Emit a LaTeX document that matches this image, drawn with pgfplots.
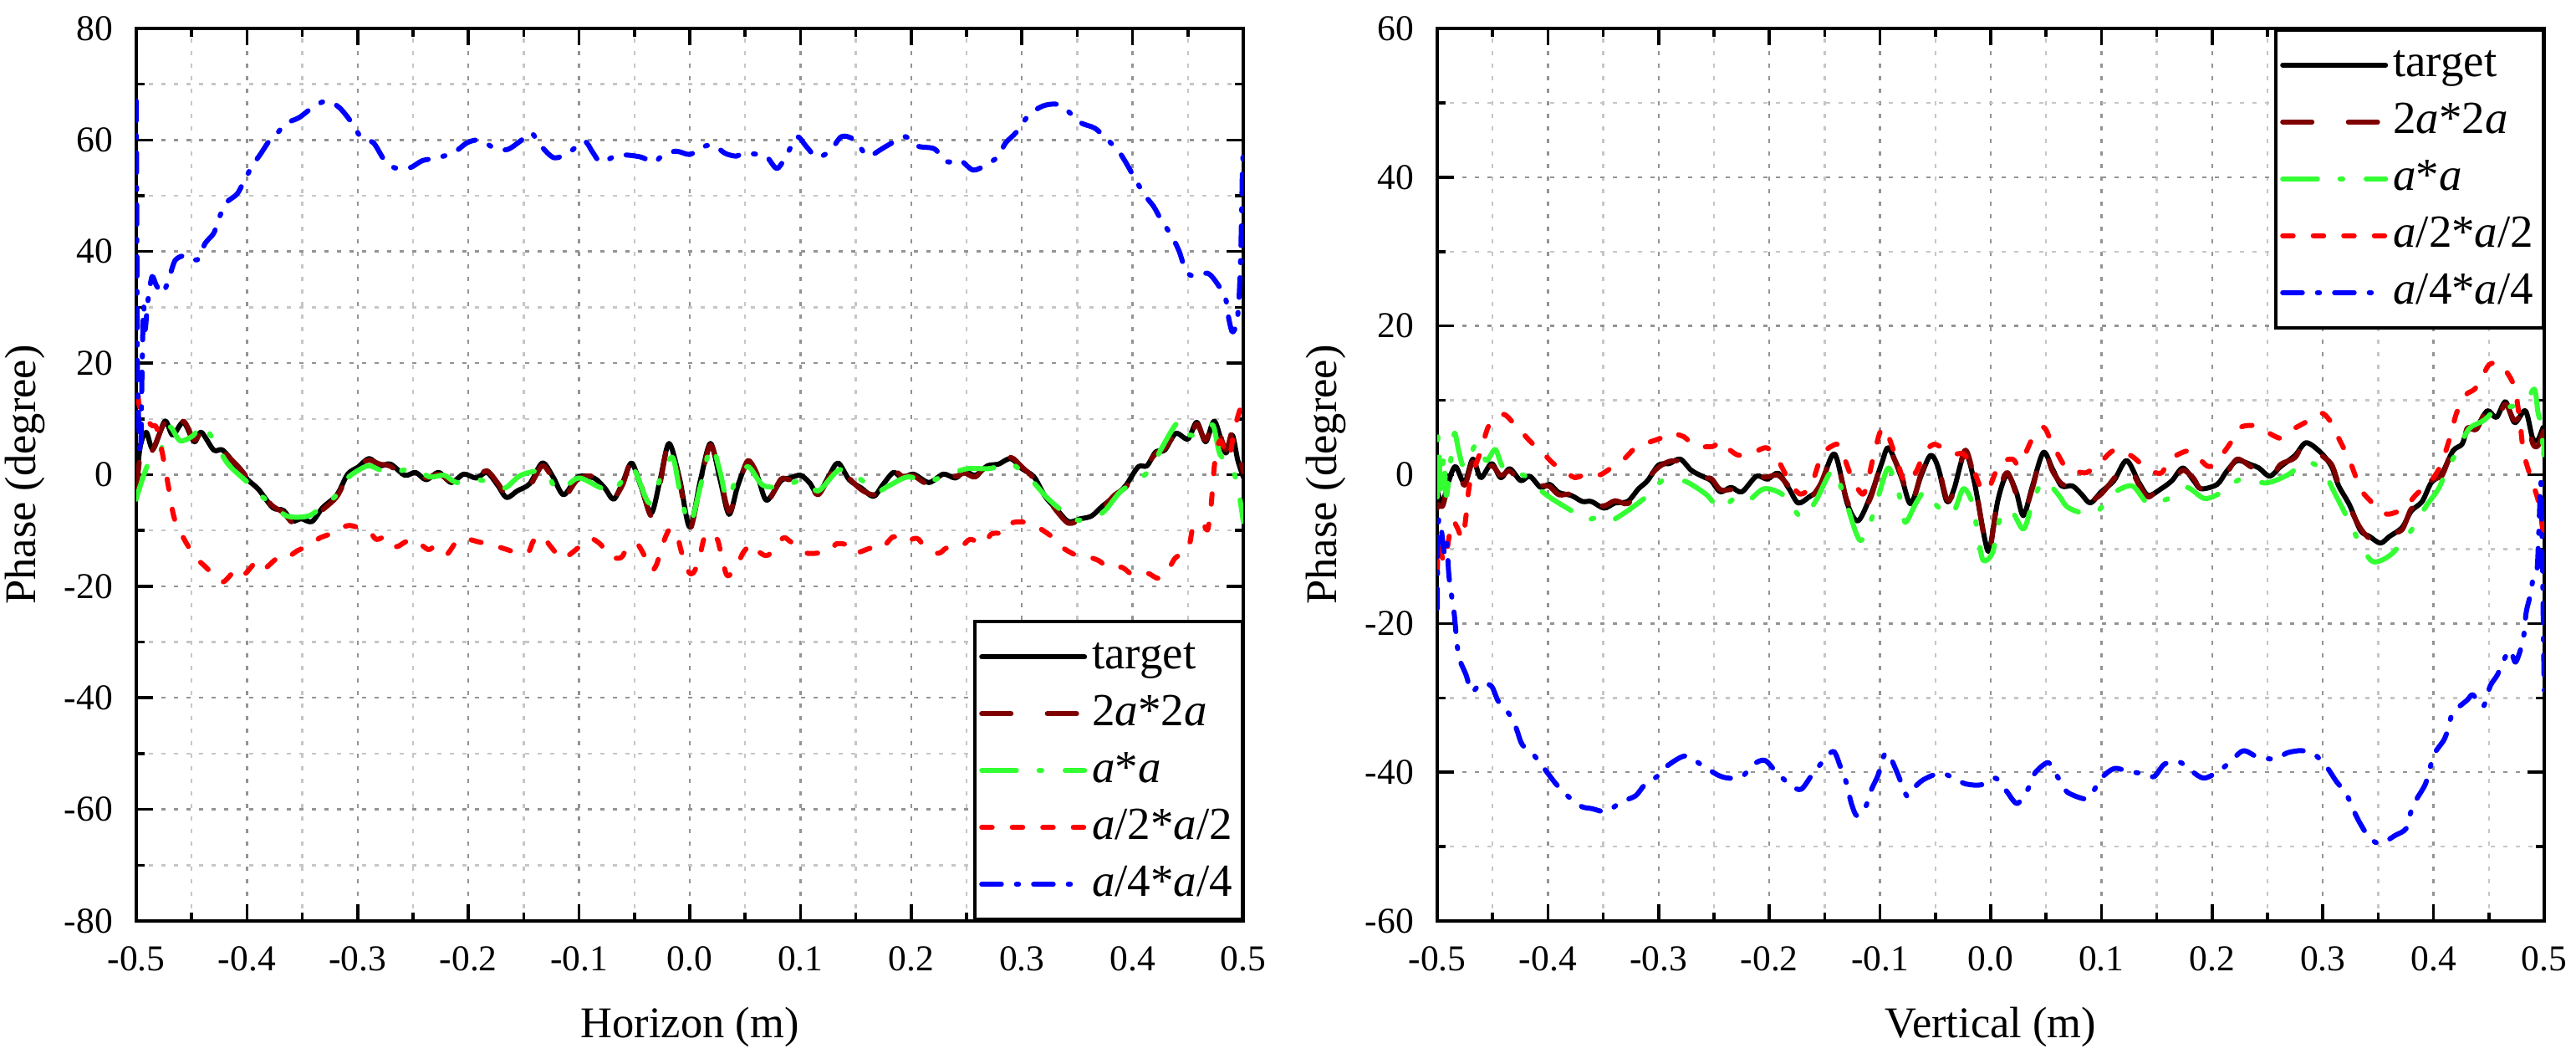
\documentclass[border=0pt]{standalone}
\usepackage{fontspec}
\setmainfont{Liberation Serif}
\usepackage{pgfplots}
\usepackage{pgfplotstable}
\pgfplotsset{compat=1.18}

\definecolor{cdred}{RGB}{128,0,0}
\definecolor{cgreen}{RGB}{51,255,51}

% ---------- Horizon (left panel) ----------
\pgfplotstableread{
x y
-0.5000 -1.9
-0.4965 5.0
-0.4910 7.6
-0.4848 4.6
-0.4742 9.6
-0.4671 7.1
-0.4574 9.4
-0.4477 5.9
-0.4413 7.6
-0.4300 4.4
-0.4219 4.4
-0.4090 1.4
-0.3994 -0.9
-0.3897 -2.6
-0.3768 -5.9
-0.3671 -6.4
-0.3590 -8.3
-0.3510 -7.9
-0.3413 -8.4
-0.3316 -5.9
-0.3187 -3.6
-0.3090 0.1
-0.2994 1.4
-0.2897 2.9
-0.2800 1.6
-0.2703 1.9
-0.2574 -0.1
-0.2477 0.4
-0.2381 -0.9
-0.2268 0.4
-0.2155 -1.4
-0.2042 0.1
-0.1929 -0.6
-0.1832 0.4
-0.1735 -1.9
-0.1655 -4.1
-0.1558 -2.9
-0.1445 -1.6
-0.1332 2.1
-0.1235 -0.4
-0.1139 -3.6
-0.1010 -0.4
-0.0865 -0.6
-0.0768 -2.4
-0.0687 -4.4
-0.0606 -1.4
-0.0526 2.1
-0.0445 -1.9
-0.0348 -6.9
-0.0268 -0.9
-0.0187 5.6
-0.0090 -0.9
0.0000 -9.4
0.0097 -0.9
0.0187 5.6
0.0274 -0.9
0.0355 -7.1
0.0435 -1.9
0.0523 2.1
0.0613 -0.4
0.0694 -4.6
0.0823 -1.1
0.0903 -0.6
0.1000 -0.1
0.1080 -1.4
0.1160 -3.4
0.1260 -0.1
0.1340 2.1
0.1440 -0.9
0.1550 -2.4
0.1660 -3.9
0.1740 -1.9
0.1840 0.4
0.1920 -0.6
0.2020 0.1
0.2160 -1.4
0.2290 0.1
0.2400 -0.6
0.2480 0.6
0.2580 -0.1
0.2690 1.6
0.2790 1.9
0.2900 2.9
0.3000 1.1
0.3110 -0.4
0.3210 -3.9
0.3310 -6.1
0.3420 -8.4
0.3530 -7.9
0.3630 -7.4
0.3730 -5.6
0.3840 -3.9
0.3940 -1.9
0.4050 1.4
0.4130 1.6
0.4210 4.1
0.4290 4.4
0.4390 7.4
0.4500 6.4
0.4580 9.4
0.4660 5.9
0.4740 9.6
0.4840 3.9
0.4900 7.1
0.4950 2.6
0.5000 -0.4
}\hortarget

\pgfplotstableread{
x y
-0.5000 -3.0
-0.4965 3.5
-0.4925 6.0
-0.4860 4.2
-0.4742 9.3
-0.4671 6.8
-0.4574 9.6
-0.4477 6.2
-0.4413 7.3
-0.4300 4.6
-0.4219 4.1
-0.4090 1.7
-0.3994 -0.6
-0.3897 -2.9
-0.3768 -5.6
-0.3671 -6.8
-0.3590 -8.6
-0.3510 -8.2
-0.3413 -8.0
-0.3316 -6.3
-0.3187 -3.9
-0.3090 -0.2
-0.2994 1.8
-0.2897 2.6
-0.2800 1.9
-0.2703 1.5
-0.2574 -0.4
-0.2477 0.1
-0.2381 -0.6
-0.2268 0.1
-0.2155 -1.1
-0.2042 0.4
-0.1929 -0.3
-0.1832 0.7
-0.1735 -1.5
-0.1655 -3.7
-0.1558 -3.1
-0.1445 -2.0
-0.1332 1.6
-0.1235 -0.8
-0.1139 -4.0
-0.1010 -0.8
-0.0865 -0.3
-0.0768 -2.0
-0.0687 -4.0
-0.0606 -1.8
-0.0526 2.5
-0.0445 -1.5
-0.0348 -7.4
-0.0268 -1.5
-0.0187 5.6
-0.0090 -1.5
0.0000 -9.8
0.0097 -1.5
0.0187 5.3
0.0274 -0.4
0.0355 -6.6
0.0435 -2.3
0.0523 2.5
0.0613 -0.1
0.0694 -4.9
0.0823 -0.8
0.0903 -0.9
0.1000 0.2
0.1080 -1.7
0.1160 -3.6
0.1260 -0.4
0.1340 2.4
0.1440 -0.6
0.1550 -2.7
0.1660 -3.6
0.1740 -2.2
0.1840 0.7
0.1920 -0.3
0.2020 -0.2
0.2160 -1.7
0.2290 0.4
0.2400 -0.3
0.2480 0.3
0.2580 -0.4
0.2690 1.9
0.2790 1.6
0.2900 3.1
0.3000 1.4
0.3110 -0.7
0.3210 -3.6
0.3310 -6.4
0.3420 -8.7
0.3530 -8.1
0.3630 -7.1
0.3730 -5.9
0.3840 -3.6
0.3940 -2.2
0.4050 1.1
0.4130 1.9
0.4210 3.8
0.4290 4.7
0.4390 7.1
0.4500 5.8
0.4580 9.1
0.4660 6.2
0.4740 9.9
0.4840 4.5
0.4900 7.6
0.4950 4.5
0.5000 0.5
}\hortwo

\pgfplotstableread{
x y
-0.5000 -4.4
-0.4994 -3.9
-0.4929 0.1
-0.4865 3.1
-0.4784 4.1
-0.4703 8.6
-0.4606 6.1
-0.4494 6.9
-0.4397 8.9
-0.4300 6.1
-0.4171 1.9
-0.3994 -1.4
-0.3897 -3.4
-0.3800 -4.9
-0.3639 -7.4
-0.3445 -7.4
-0.3316 -5.6
-0.3203 -3.9
-0.3106 -0.9
-0.3010 0.6
-0.2897 1.6
-0.2768 0.6
-0.2639 0.6
-0.2494 1.1
-0.2348 -0.4
-0.2219 -0.1
-0.2106 -1.4
-0.1929 -0.9
-0.1800 -1.4
-0.1671 -2.4
-0.1526 -0.1
-0.1316 0.6
-0.1187 -2.9
-0.1010 -0.6
-0.0832 -2.1
-0.0703 -3.1
-0.0623 -1.4
-0.0510 1.1
-0.0365 -5.1
-0.0252 0.1
-0.0155 3.1
-0.0090 -2.9
0.0000 -8.9
0.0097 -2.0
0.0194 5.1
0.0274 0.5
0.0339 -4.4
0.0435 0.0
0.0532 1.4
0.0661 -1.9
0.0839 -2.1
0.1032 -0.9
0.1161 -2.9
0.1355 0.9
0.1548 -0.9
0.1677 -3.1
0.1806 -1.9
0.1968 -0.4
0.2161 -1.1
0.2387 0.4
0.2516 1.1
0.2710 1.1
0.2903 1.9
0.3081 -0.9
0.3226 -4.1
0.3355 -6.4
0.3435 -7.9
0.3597 -8.1
0.3742 -6.6
0.3887 -3.1
0.4032 -1.1
0.4161 0.9
0.4258 4.6
0.4419 9.6
0.4516 7.1
0.4645 7.6
0.4726 8.9
0.4790 3.6
0.4887 1.9
0.4952 -2.4
0.5000 -8.4
}\horone

\pgfplotstableread{
x y
-0.5000 19.5
-0.4985 14.5
-0.4962 11.6
-0.4865 8.9
-0.4816 8.4
-0.4752 2.6
-0.4703 -2.9
-0.4655 -7.9
-0.4558 -11.9
-0.4461 -14.9
-0.4381 -16.4
-0.4252 -18.9
-0.4203 -19.1
-0.4090 -16.9
-0.4026 -17.9
-0.3913 -15.6
-0.3848 -16.9
-0.3735 -15.1
-0.3671 -15.4
-0.3542 -13.6
-0.3413 -12.6
-0.3348 -11.4
-0.3219 -10.4
-0.3171 -9.6
-0.3074 -9.1
-0.3010 -9.4
-0.2897 -10.1
-0.2832 -11.6
-0.2735 -11.1
-0.2655 -12.9
-0.2574 -12.1
-0.2494 -11.6
-0.2365 -13.4
-0.2300 -12.9
-0.2203 -14.4
-0.2106 -11.9
-0.2042 -11.4
-0.1897 -12.1
-0.1816 -12.4
-0.1655 -13.4
-0.1574 -13.9
-0.1461 -13.9
-0.1413 -11.9
-0.1332 -10.9
-0.1268 -12.6
-0.1155 -15.1
-0.1090 -14.4
-0.0977 -12.6
-0.0897 -11.4
-0.0800 -12.6
-0.0735 -14.6
-0.0623 -14.9
-0.0558 -12.9
-0.0477 -12.4
-0.0413 -14.4
-0.0348 -17.1
-0.0300 -16.1
-0.0252 -12.9
-0.0187 -9.9
-0.0123 -10.4
-0.0074 -13.9
-0.0010 -17.4
0.0032 -17.6
0.0081 -15.4
0.0145 -10.6
0.0242 -11.4
0.0274 -13.4
0.0339 -18.1
0.0435 -15.9
0.0484 -13.9
0.0565 -12.4
0.0629 -13.9
0.0710 -14.4
0.0839 -11.4
0.0903 -11.9
0.1032 -13.9
0.1129 -14.1
0.1274 -13.6
0.1323 -12.4
0.1419 -12.6
0.1484 -14.1
0.1645 -13.1
0.1726 -13.4
0.1839 -11.1
0.1919 -12.1
0.2048 -11.4
0.2113 -12.6
0.2242 -14.1
0.2323 -13.1
0.2452 -12.9
0.2532 -11.6
0.2661 -12.4
0.2726 -10.6
0.2855 -10.4
0.2919 -8.6
0.3065 -8.6
0.3161 -9.6
0.3290 -11.4
0.3355 -12.9
0.3484 -14.4
0.3548 -14.4
0.3694 -15.4
0.3774 -16.6
0.3903 -16.6
0.4000 -17.9
0.4129 -17.6
0.4242 -18.6
0.4339 -16.4
0.4387 -14.9
0.4484 -13.6
0.4516 -12.4
0.4548 -9.4
0.4629 -8.6
0.4677 -9.9
0.4710 -5.4
0.4742 2.1
0.4790 6.1
0.4871 3.1
0.4919 8.1
0.4984 12.6
0.5000 13.1
}\horhalf

\pgfplotstableread{
x y
-0.5000 67.0
-0.4995 45.0
-0.4990 20.0
-0.4975 8.0
-0.4960 4.0
-0.4950 16.0
-0.4935 30.0
-0.4920 26.0
-0.4896 31.0
-0.4858 35.5
-0.4820 34.0
-0.4760 32.5
-0.4700 35.5
-0.4646 38.5
-0.4550 39.3
-0.4450 38.5
-0.4377 41.5
-0.4300 43.3
-0.4242 46.5
-0.4185 48.8
-0.4090 50.3
-0.4030 52.5
-0.3954 55.3
-0.3877 57.5
-0.3800 59.8
-0.3723 61.3
-0.3646 63.0
-0.3530 64.0
-0.3396 66.0
-0.3280 67.0
-0.3165 65.8
-0.3050 63.0
-0.2970 60.5
-0.2858 59.5
-0.2762 56.5
-0.2665 55.0
-0.2530 55.0
-0.2415 56.3
-0.2280 56.8
-0.2127 57.8
-0.2012 59.5
-0.1896 60.0
-0.1762 58.5
-0.1646 58.3
-0.1531 59.8
-0.1435 61.3
-0.1338 58.8
-0.1223 56.8
-0.1088 57.8
-0.0954 59.8
-0.0877 57.8
-0.0800 56.0
-0.0646 57.3
-0.0454 57.0
-0.0320 56.0
-0.0260 57.0
-0.0130 58.0
0.0000 57.4
0.0097 58.6
0.0210 59.1
0.0320 57.6
0.0420 57.1
0.0480 57.6
0.0580 57.5
0.0690 57.1
0.0790 54.9
0.0890 57.9
0.0970 60.6
0.1050 58.9
0.1150 56.9
0.1270 58.1
0.1370 60.6
0.1480 60.1
0.1580 57.6
0.1630 57.1
0.1710 58.1
0.1820 59.4
0.1950 60.6
0.2060 58.9
0.2210 58.4
0.2320 56.1
0.2440 56.4
0.2560 54.6
0.2680 55.6
0.2790 57.1
0.2850 59.4
0.2950 61.4
0.3060 64.4
0.3190 66.1
0.3320 66.4
0.3420 65.1
0.3530 63.1
0.3660 62.1
0.3770 60.1
0.3870 58.1
0.3950 55.6
0.4020 53.1
0.4110 50.1
0.4190 48.1
0.4260 45.6
0.4350 42.9
0.4420 40.1
0.4480 36.6
0.4550 35.6
0.4680 36.1
0.4770 34.1
0.4840 31.6
0.4860 28.9
0.4900 25.6
0.4940 27.1
0.4960 31.1
0.4975 38.1
0.4985 46.6
0.4993 55.6
0.5000 57.0
}\horquarter

% ---------- Vertical (right panel) ----------
\pgfplotstableread{
x y
-0.5000 -2.0
-0.4993 -2.6
-0.4951 -3.8
-0.4902 -1.1
-0.4836 1.1
-0.4754 -1.1
-0.4679 2.1
-0.4607 -0.4
-0.4509 1.5
-0.4427 -0.4
-0.4345 0.8
-0.4246 -0.8
-0.4164 -0.2
-0.4066 -1.7
-0.3984 -1.3
-0.3902 -2.4
-0.3788 -2.8
-0.3689 -3.6
-0.3607 -3.6
-0.3493 -4.5
-0.3394 -3.8
-0.3280 -3.6
-0.3182 -1.9
-0.3100 -0.8
-0.3001 1.3
-0.2903 1.5
-0.2805 2.1
-0.2706 0.6
-0.2608 -0.2
-0.2526 -0.8
-0.2444 -2.3
-0.2346 -1.7
-0.2248 -2.3
-0.2117 -0.2
-0.2018 -0.6
-0.1920 0.2
-0.1822 -1.9
-0.1740 -3.8
-0.1642 -3.0
-0.1543 -1.7
-0.1412 2.8
-0.1298 -3.8
-0.1199 -6.2
-0.1085 -2.8
-0.0986 1.5
-0.0921 3.6
-0.0806 -0.4
-0.0724 -3.9
-0.0626 0.0
-0.0544 2.6
-0.0478 1.1
-0.0396 -3.6
-0.0331 -1.9
-0.0233 3.0
-0.0151 -0.8
-0.0052 -8.8
-0.0010 -10.0
0.0065 -3.4
0.0147 0.0
0.0230 -2.3
0.0295 -5.5
0.0377 -1.5
0.0475 3.0
0.0557 0.8
0.0639 -1.5
0.0737 -1.5
0.0818 -2.6
0.0900 -3.8
0.0998 -2.3
0.1113 -0.8
0.1227 1.9
0.1340 -1.1
0.1424 -2.8
0.1538 -1.9
0.1637 -0.8
0.1735 0.9
0.1833 -0.8
0.1900 -1.9
0.2046 -1.3
0.2128 0.4
0.2227 1.9
0.2358 1.3
0.2423 0.9
0.2521 -0.2
0.2619 1.1
0.2749 2.6
0.2849 4.3
0.2980 3.0
0.3078 1.1
0.3143 -1.5
0.3242 -4.1
0.3340 -7.5
0.3422 -8.3
0.3520 -9.2
0.3602 -8.3
0.3716 -7.1
0.3798 -4.9
0.3897 -3.6
0.3978 -1.1
0.4077 0.2
0.4175 3.2
0.4257 4.1
0.4306 6.0
0.4388 6.4
0.4486 8.6
0.4568 7.7
0.4650 9.8
0.4732 7.0
0.4830 8.6
0.4895 4.9
0.4944 4.7
0.4993 6.4
0.5000 5.0
}\vertarget

\pgfplotstableread{
x y
-0.5000 -4.5
-0.4993 -4.0
-0.4951 -4.2
-0.4902 -1.5
-0.4836 0.8
-0.4754 -1.4
-0.4679 1.7
-0.4607 -0.8
-0.4509 1.2
-0.4427 -0.1
-0.4345 0.5
-0.4246 -1.0
-0.4164 -0.5
-0.4066 -1.4
-0.3984 -1.6
-0.3902 -2.7
-0.3788 -2.6
-0.3689 -3.3
-0.3607 -3.9
-0.3493 -4.2
-0.3394 -3.5
-0.3280 -3.9
-0.3182 -2.2
-0.3100 -0.5
-0.3001 1.0
-0.2903 1.8
-0.2805 1.8
-0.2706 0.9
-0.2608 -0.5
-0.2526 -0.5
-0.2444 -2.0
-0.2346 -2.0
-0.2248 -2.0
-0.2117 -0.5
-0.2018 -0.3
-0.1920 -0.1
-0.1822 -1.6
-0.1740 -3.5
-0.1642 -3.3
-0.1543 -1.4
-0.1412 2.5
-0.1298 -3.5
-0.1199 -5.8
-0.1085 -3.1
-0.0986 1.8
-0.0921 3.3
-0.0806 -0.1
-0.0724 -4.2
-0.0626 0.3
-0.0544 2.3
-0.0478 1.4
-0.0396 -3.3
-0.0331 -2.2
-0.0233 3.3
-0.0151 -0.5
-0.0052 -9.1
-0.0010 -10.4
0.0065 -3.0
0.0147 0.3
0.0230 -2.6
0.0295 -5.2
0.0377 -1.8
0.0475 3.3
0.0557 0.5
0.0639 -1.2
0.0737 -1.8
0.0818 -2.9
0.0900 -3.5
0.0998 -2.6
0.1113 -0.5
0.1227 1.6
0.1340 -1.4
0.1424 -3.0
0.1538 -1.6
0.1637 -1.0
0.1735 0.6
0.1833 -0.5
0.1900 -1.9
0.2046 -1.0
0.2128 0.1
0.2227 2.1
0.2358 1.0
0.2423 1.1
0.2521 -0.5
0.2619 1.4
0.2749 2.3
0.2849 4.6
0.2980 2.7
0.3078 1.4
0.3143 -1.2
0.3242 -4.4
0.3340 -7.2
0.3422 -8.6
0.3520 -9.4
0.3602 -8.0
0.3716 -7.4
0.3798 -4.6
0.3897 -3.9
0.3978 -0.8
0.4077 -0.1
0.4175 3.5
0.4257 3.8
0.4306 6.3
0.4388 6.1
0.4486 8.9
0.4568 7.4
0.4650 9.5
0.4732 7.3
0.4830 8.3
0.4895 4.2
0.4944 3.9
0.4993 5.8
0.5000 5.5
}\vertwo

\pgfplotstableread{
x y
-0.5000 -3.0
-0.4993 5.3
-0.4967 -1.9
-0.4941 2.6
-0.4918 -2.8
-0.4875 2.3
-0.4843 5.6
-0.4803 3.0
-0.4754 1.1
-0.4640 4.3
-0.4558 1.9
-0.4476 3.4
-0.4410 1.1
-0.4296 0.4
-0.4181 -0.4
-0.4083 -1.9
-0.3968 -3.2
-0.3804 -4.7
-0.3657 -6.0
-0.3558 -5.8
-0.3460 -6.4
-0.3378 -5.8
-0.3247 -4.5
-0.3100 -2.8
-0.2969 -0.8
-0.2870 -0.8
-0.2756 -0.9
-0.2575 -2.6
-0.2444 -4.5
-0.2313 -3.2
-0.2215 -3.8
-0.2051 -1.9
-0.1887 -2.6
-0.1789 -4.5
-0.1691 -5.8
-0.1576 -3.4
-0.1429 0.6
-0.1330 -2.6
-0.1183 -8.8
-0.1068 -5.6
-0.1003 -2.3
-0.0921 0.9
-0.0822 -3.0
-0.0773 -6.4
-0.0675 -3.8
-0.0593 -2.3
-0.0478 -4.3
-0.0347 -5.3
-0.0249 -1.9
-0.0167 -3.8
-0.0118 -7.9
-0.0069 -11.5
0.0016 -10.5
0.0082 -6.0
0.0180 -4.7
0.0295 -7.3
0.0377 -3.8
0.0475 -0.8
0.0606 -2.6
0.0688 -4.3
0.0819 -5.1
0.0966 -4.9
0.1097 -2.6
0.1277 -1.5
0.1424 -3.9
0.1604 -3.2
0.1768 -1.7
0.1932 -3.2
0.2095 -2.3
0.2259 -0.6
0.2489 -1.1
0.2685 0.0
0.2849 1.7
0.2996 0.6
0.3111 -2.6
0.3242 -6.4
0.3340 -9.4
0.3455 -11.7
0.3618 -10.7
0.3798 -7.5
0.3929 -4.3
0.4044 -1.9
0.4126 0.8
0.4224 3.4
0.4322 6.2
0.4453 7.3
0.4584 9.0
0.4715 9.2
0.4846 10.2
0.4912 11.5
0.4944 8.3
0.4977 6.4
0.4990 1.9
0.5000 4.5
}\verone

\pgfplotstableread{
x y
-0.5000 -13.0
-0.4984 -9.4
-0.4934 -11.7
-0.4869 -6.4
-0.4820 -7.1
-0.4771 -8.6
-0.4738 -5.3
-0.4705 -1.1
-0.4607 3.2
-0.4541 6.4
-0.4476 7.5
-0.4394 8.1
-0.4279 6.4
-0.4148 4.3
-0.4050 3.0
-0.3951 1.5
-0.3820 0.2
-0.3755 -0.4
-0.3624 0.2
-0.3526 0.0
-0.3394 1.3
-0.3313 2.1
-0.3198 3.8
-0.3100 4.3
-0.2985 4.9
-0.2903 5.6
-0.2772 5.1
-0.2674 3.9
-0.2510 3.8
-0.2444 4.5
-0.2346 3.2
-0.2264 2.6
-0.2117 3.2
-0.2018 3.6
-0.1920 1.9
-0.1822 -0.8
-0.1723 -2.6
-0.1625 -1.5
-0.1527 2.6
-0.1429 3.9
-0.1363 3.8
-0.1265 0.0
-0.1150 -2.6
-0.1068 1.9
-0.1003 5.6
-0.0954 6.2
-0.0855 2.3
-0.0773 -1.1
-0.0675 0.4
-0.0609 2.6
-0.0511 4.1
-0.0347 2.8
-0.0249 2.8
-0.0167 1.1
-0.0085 -1.9
-0.0020 -1.9
0.0082 1.5
0.0196 2.1
0.0262 1.3
0.0377 4.9
0.0475 6.4
0.0540 4.7
0.0622 2.3
0.0688 0.8
0.0786 0.4
0.0868 0.3
0.0982 1.5
0.1081 3.0
0.1162 3.4
0.1293 2.3
0.1408 0.8
0.1539 0.2
0.1604 1.9
0.1703 2.8
0.1801 3.2
0.1899 1.9
0.1981 1.1
0.2095 2.8
0.2194 4.9
0.2259 6.4
0.2390 6.6
0.2489 5.8
0.2620 4.9
0.2718 6.0
0.2849 7.1
0.2980 8.3
0.3062 7.3
0.3143 4.9
0.3242 1.9
0.3340 -1.9
0.3422 -3.4
0.3520 -4.9
0.3602 -5.3
0.3733 -4.5
0.3847 -2.6
0.3962 -1.1
0.4060 1.1
0.4142 4.7
0.4208 8.3
0.4289 10.7
0.4371 11.5
0.4437 13.0
0.4502 14.8
0.4601 15.0
0.4666 13.7
0.4732 11.7
0.4781 7.1
0.4813 3.0
0.4879 -0.4
0.4944 -3.4
0.4977 -6.4
0.5000 -9.0
}\verhalf

\pgfplotstableread{
x y
-0.5000 -18.0
-0.4995 -8.0
-0.4985 -6.0
-0.4970 -6.5
-0.4950 -9.0
-0.4935 -10.5
-0.4915 -9.0
-0.4895 -13.5
-0.4870 -16.3
-0.4850 -18.3
-0.4837 -20.2
-0.4818 -23.2
-0.4792 -25.1
-0.4740 -26.9
-0.4688 -29.2
-0.4610 -28.1
-0.4512 -28.4
-0.4447 -30.5
-0.4349 -32.2
-0.4284 -34.2
-0.4232 -36.3
-0.4122 -37.8
-0.4024 -39.7
-0.3926 -41.6
-0.3829 -43.1
-0.3699 -44.6
-0.3601 -44.9
-0.3471 -45.3
-0.3341 -44.0
-0.3211 -43.2
-0.3126 -41.7
-0.3016 -40.6
-0.2918 -39.1
-0.2755 -37.8
-0.2606 -39.1
-0.2463 -40.4
-0.2365 -40.8
-0.2248 -40.6
-0.2137 -38.9
-0.2040 -38.4
-0.1942 -39.9
-0.1812 -41.7
-0.1714 -42.3
-0.1617 -40.4
-0.1519 -38.6
-0.1421 -37.2
-0.1357 -39.3
-0.1305 -41.4
-0.1259 -44.2
-0.1207 -45.9
-0.1129 -44.6
-0.1077 -42.3
-0.1018 -40.4
-0.0953 -37.4
-0.0901 -38.2
-0.0836 -40.4
-0.0758 -43.2
-0.0706 -42.3
-0.0608 -41.0
-0.0446 -40.1
-0.0316 -41.0
-0.0218 -41.6
-0.0088 -41.7
0.0042 -40.8
0.0140 -42.5
0.0238 -44.2
0.0335 -42.3
0.0400 -40.1
0.0517 -38.7
0.0582 -40.1
0.0628 -41.2
0.0693 -42.7
0.0856 -43.6
0.0921 -42.7
0.0999 -40.8
0.1116 -39.5
0.1246 -39.9
0.1376 -40.2
0.1474 -40.6
0.1571 -38.9
0.1701 -38.6
0.1819 -39.9
0.1929 -40.8
0.2076 -39.7
0.2189 -38.2
0.2287 -37.1
0.2417 -38.0
0.2580 -38.2
0.2677 -37.4
0.2807 -37.1
0.2924 -37.6
0.3035 -39.3
0.3120 -41.2
0.3211 -42.9
0.3283 -45.3
0.3341 -47.0
0.3426 -48.9
0.3523 -49.6
0.3653 -48.5
0.3751 -47.6
0.3796 -45.3
0.3848 -43.6
0.3926 -41.6
0.3978 -38.9
0.4011 -37.4
0.4096 -35.6
0.4141 -33.7
0.4174 -32.0
0.4304 -30.3
0.4356 -29.6
0.4447 -31.2
0.4512 -28.4
0.4577 -26.9
0.4642 -24.7
0.4694 -23.6
0.4740 -25.2
0.4792 -23.2
0.4818 -21.3
0.4837 -18.5
0.4870 -16.4
0.4902 -13.8
0.4935 -12.7
0.4950 -8.0
0.4968 -1.0
0.4975 -5.0
0.4985 -13.0
0.4993 -22.0
0.5000 -29.0
}\verquarter

\pgfplotsset{
  phaseaxis/.style={
    scale only axis,
    width=264.8pt, height=213.4pt,
    xmin=-0.5, xmax=0.5,
    xtick={-0.5,-0.4,-0.3,-0.2,-0.1,0,0.1,0.2,0.3,0.4,0.5},
    minor x tick num=1, minor y tick num=1,
    tick align=inside,
    major tick length=4pt, minor tick length=2pt,
    tick style={black, line width=0.7pt},
    axis line style={line width=0.7pt},
    grid=both,
    major grid style={gray!85, line width=0.5pt, dash pattern=on 1pt off 2pt},
    minor grid style={gray!45, line width=0.5pt, dash pattern=on 1pt off 2pt},
    tick label style={font=\fontsize{8.7}{10}\selectfont},
    /pgf/number format/assume math mode=true,
    xticklabel style={/pgf/number format/fixed, /pgf/number format/fixed zerofill,
      /pgf/number format/precision=1, yshift=-2.6pt},
    yticklabel style={xshift=-2.1pt},
    label style={font=\fontsize{10.5}{12}\selectfont},
    xlabel style={at={(axis description cs:0.5,-0.119)}, anchor=center},
    ylabel style={at={(axis description cs:-0.1005,0.5)}, anchor=center},
    ylabel={Phase (degree)},
    legend cell align=left,
    legend style={font=\fontsize{11}{13}\selectfont, draw=black, line width=0.7pt,
      inner xsep=1pt, inner ysep=1.6pt, row sep=0pt,
      nodes={text height=8.6pt, text depth=3pt, inner ysep=1pt, inner xsep=1.2pt}},
    legend image code/.code={\draw[##1] (0pt,0pt) -- (24.6pt,0pt);},
    every axis plot/.append style={line width=1.2pt, line cap=round, line join=round, smooth, no markers},
  },
  s target/.style={black},
  s two/.style={cdred, dash pattern=on 7pt off 8.7pt},
  s one/.style={cgreen, dash pattern=on 8.3pt off 5.4pt on 0.65pt off 5.6pt},
  s half/.style={red, dash pattern=on 2.5pt off 4.8pt},
  s quarter/.style={blue, dash pattern=on 4.7pt off 3.6pt on 0.5pt off 3.6pt},
}

\begin{document}
\begin{tikzpicture}
\path[use as bounding box] (0pt,0pt) rectangle (616.2pt,254.4pt);

\begin{axis}[phaseaxis,
  at={(32.6pt,34.2pt)}, anchor=south west,
  ymin=-80, ymax=80, ytick={-80,-60,-40,-20,0,20,40,60,80},
  xlabel={Horizon (m)},
  legend style={at={(1,0)}, anchor=south east}]
\addplot[s target] table {\hortarget};
\addplot[s two] table {\hortwo};
\addplot[s one] table {\horone};
\addplot[s half] table {\horhalf};
\addplot[s quarter] table {\horquarter};
\legend{target, 2\textit{a}*2\textit{a}, \textit{a}*\textit{a}, \textit{a}/2*\textit{a}/2, \textit{a}/4*\textit{a}/4}
\end{axis}

\begin{axis}[phaseaxis,
  at={(343.8pt,34.2pt)}, anchor=south west,
  ymin=-60, ymax=60, ytick={-60,-40,-20,0,20,40,60},
  xlabel={Vertical (m)},
  legend style={at={(1,1)}, anchor=north east}]
\addplot[s target] table {\vertarget};
\addplot[s two] table {\vertwo};
\addplot[s one] table {\verone};
\addplot[s half] table {\verhalf};
\addplot[s quarter] table {\verquarter};
\legend{target, 2\textit{a}*2\textit{a}, \textit{a}*\textit{a}, \textit{a}/2*\textit{a}/2, \textit{a}/4*\textit{a}/4}
\end{axis}
\end{tikzpicture}
\end{document}
